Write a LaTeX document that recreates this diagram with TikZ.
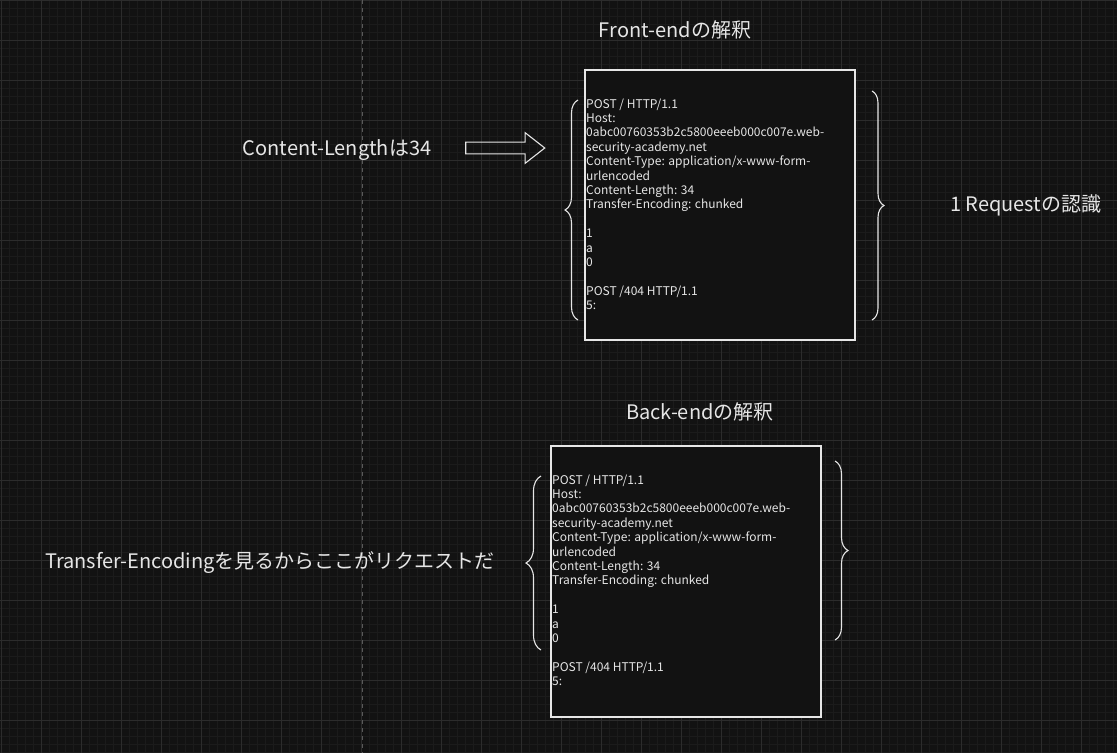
\documentclass[tikz,border=0pt]{standalone}
\usepackage{fontspec}
\setmainfont{Noto Sans CJK JP}
\usetikzlibrary{decorations.pathreplacing,shapes.arrows}

\definecolor{sfondo}{HTML}{121212}
\definecolor{grigliamin}{HTML}{1B1B1B}
\definecolor{grigliamag}{HTML}{2C2C2C}
\definecolor{tratto}{HTML}{E6E6E6}

\tikzset{
  titolo/.style={text=tratto, font=\fontsize{20}{24}\selectfont, inner sep=0pt},
  riga/.style={text=tratto, font=\fontsize{12}{14}\selectfont, anchor=base west, inner sep=0pt},
  scatola/.style={draw=tratto, line width=1.3pt, fill=sfondo},
  graffa/.style={draw=tratto, line width=1.1pt, decorate, decoration={brace, amplitude=#1}},
  freccia/.style={single arrow, draw=tratto, line width=1.1pt, minimum height=79pt,
    single arrow head extend=9.5pt, single arrow tip angle=76, inner xsep=0pt, inner ysep=5.3pt}
}

% righe della richiesta
\newcommand\righe{POST / HTTP/1.1, Host:, 0abc00760353b2c5800eeeb000c007e.web-,
  security-academy.net, Content-Type: application/x-www-form-, urlencoded,
  Content-Length: 34, Transfer-Encoding: chunked, {}, 1, a, 0, {}, POST /404 HTTP/1.1, 5:}

\begin{document}
\begin{tikzpicture}[x=1pt, y=-1pt]
    % Sfondo e griglia
    \fill[sfondo] (0,0) rectangle (1117,753);
    \useasboundingbox (0,0) rectangle (1117,753);
    \foreach \gx in {1,9,...,1117} \draw[grigliamin, line width=0.6pt] (\gx,0) -- (\gx,753);
    \foreach \gy in {0,8,...,753} \draw[grigliamin, line width=0.6pt] (0,\gy) -- (1117,\gy);
    \foreach \gx in {1,41,...,1117} \draw[grigliamag, line width=0.8pt] (\gx,0) -- (\gx,753);
    \foreach \gy in {0,40,...,753} \draw[grigliamag, line width=0.8pt] (0,\gy) -- (1117,\gy);
    \draw[gray!70!black, line width=0.7pt, dash pattern=on 4pt off 4pt] (362,0) -- (362,753);

    % Front-end
    \node[titolo] (fr-titolo) at (675,30) {Front-endの解釈};
    \node[scatola, minimum width=270pt, minimum height=270pt] (fr-box) at (720,205) {};
    \node[titolo] (fr-cl) at (337,150) {Content-Lengthは34};
    \node[freccia] (fr-freccia) at (501.5,148) {};
    \node[titolo, anchor=west] (fr-req) at (950,205) {1 Requestの認識};

    % Back-end
    \node[titolo] (bk-titolo) at (700,412) {Back-endの解釈};
    \node[scatola, minimum width=270pt, minimum height=271pt] (bk-box) at (686,581.5) {};
    \node[titolo] (bk-te) at (270,563) {Transfer-Encodingを見るからここがリクエストだ};

    % Testo delle richieste
    \foreach \bx/\by/\nome in {586/108/fr, 552/484/bk} {
        \foreach \testo [count=\i] in \righe
            \node[riga] (\nome-riga\i) at (\bx,{\by+14.4*(\i-1)}) {\testo};
    }

    % Graffe
    \coordinate (fl-b) at (578,320);
    \coordinate (fl-a) at (578,100);
    \coordinate (fd-a) at (872,91);
    \coordinate (fd-b) at (872,320);
    \coordinate (bl-b) at (541,650);
    \coordinate (bl-a) at (541,476);
    \coordinate (bd-a) at (835,461);
    \coordinate (bd-b) at (835,640);
    \draw[graffa=13pt] (fl-b) -- (fl-a);
    \draw[graffa=12pt] (fd-a) -- (fd-b);
    \draw[graffa=15pt] (bl-b) -- (bl-a);
    \draw[graffa=13pt] (bd-a) -- (bd-b);
\end{tikzpicture}
\end{document}
